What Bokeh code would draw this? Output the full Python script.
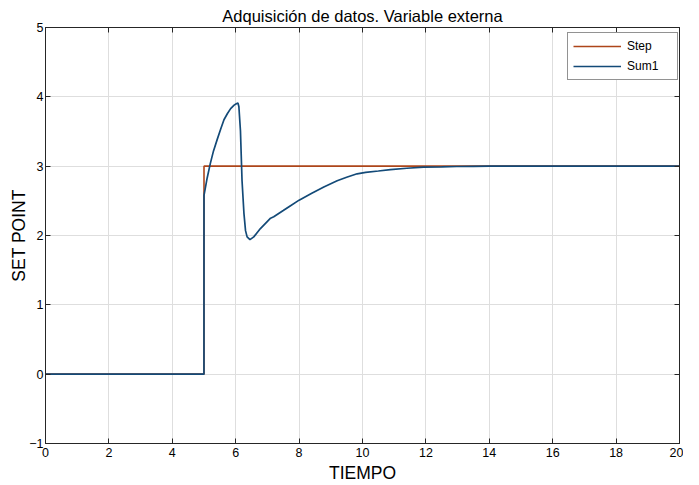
from bokeh.plotting import figure
from bokeh.models import LinearAxis, Range1d, FixedTicker, Legend, LegendItem
from bokeh.embed import file_html
from bokeh.resources import INLINE

t_step = [0, 5, 5, 20]
y_step = [0, 0, 3, 3]

t_sum = [0, 4.999, 5.0, 5.1, 5.2, 5.3, 5.42, 5.53, 5.63, 5.74, 5.84, 5.95, 6.02, 6.07, 6.1,
         6.15, 6.2, 6.26, 6.31, 6.36, 6.45, 6.57, 6.78, 7.1, 7.2, 7.5, 7.73, 8.0, 8.4, 8.78,
         9.2, 9.5, 9.83, 10.1, 10.5, 10.88, 11.4, 11.93, 12.5, 12.97, 13.5, 14, 15, 20]
y_sum = [0, 0, 2.58, 2.83, 3.04, 3.22, 3.39, 3.54, 3.67, 3.76, 3.83, 3.88, 3.9, 3.91, 3.86,
         3.51, 2.79, 2.32, 2.07, 1.98, 1.94, 1.98, 2.10, 2.25, 2.27, 2.36, 2.43, 2.51, 2.61, 2.70,
         2.79, 2.84, 2.89, 2.91, 2.93, 2.95, 2.97, 2.985, 2.99, 2.995, 2.998, 3.0, 3.0, 3.0]

x_ticks = [0, 2, 4, 6, 8, 10, 12, 14, 16, 18, 20]
y_ticks = [-1, 0, 1, 2, 3, 4, 5]

title_text = "Adquisición de datos. Variable externa"
x_label = "TIEMPO"
y_label = "SET POINT"

FONT = "Liberation Sans"
AX = "#262626"

p = figure(width=683, height=485, output_backend="svg", toolbar_location=None,
           x_range=Range1d(0, 20), y_range=Range1d(-1, 5),
           title=title_text,
           min_border_left=45, min_border_right=4, min_border_top=27, min_border_bottom=42)

p.title.text_font = FONT
p.title.text_font_size = "16.5px"
p.title.text_font_style = "normal"
p.title.align = "center"
p.title.text_color = "#000000"
p.title.standoff = 5

p.outline_line_color = AX
p.outline_line_width = 1

for ax, ticks in ((p.xaxis[0], x_ticks), (p.yaxis[0], y_ticks)):
    ax.ticker = FixedTicker(ticks=ticks)
    ax.major_tick_in = 5
    ax.major_tick_out = 0
    ax.minor_tick_line_color = None
    ax.axis_line_color = AX
    ax.major_tick_line_color = AX
    ax.major_label_text_font = FONT
    ax.major_label_text_font_size = "12.5px"
    ax.major_label_text_color = "#000000"
    ax.axis_label_text_font = FONT
    ax.axis_label_text_font_size = "17.5px"
    ax.axis_label_text_font_style = "normal"
    ax.axis_label_text_color = "#000000"

p.xaxis[0].major_label_standoff = 4
p.xaxis[0].axis_label_standoff = 3
p.yaxis[0].major_label_standoff = 2
p.yaxis[0].axis_label_standoff = -3

p.xaxis[0].axis_label = x_label
p.yaxis[0].axis_label = y_label

for loc, ticks in (("above", x_ticks), ("right", y_ticks)):
    a = LinearAxis(ticker=FixedTicker(ticks=ticks), major_tick_in=5, major_tick_out=0,
                   minor_tick_line_color=None, axis_line_color=AX, major_tick_line_color=AX,
                   major_label_text_font_size="0px", major_label_text_color=None,
                   major_label_standoff=0)
    p.add_layout(a, loc)

p.xgrid.ticker = FixedTicker(ticks=x_ticks)
p.ygrid.ticker = FixedTicker(ticks=y_ticks)
p.xgrid.grid_line_color = "#dedede"
p.ygrid.grid_line_color = "#dedede"

r_sum = p.line(t_sum, y_sum, line_color="#134a78", line_width=1.7)
r_step = p.line(t_step, y_step, line_color="#ad451a", line_width=1.6)
p.renderers.remove(r_sum)
p.renderers.append(r_sum)

legend = Legend(items=[LegendItem(label="Step", renderers=[r_step]),
                       LegendItem(label="Sum1", renderers=[r_sum])],
                location=(522, 363))
legend.label_text_font = FONT
legend.label_text_font_size = "12px"
legend.label_text_color = "#000000"
legend.glyph_width = 48
legend.glyph_height = 16
legend.label_height = 16
legend.label_width = 45
legend.spacing = 4
legend.padding = 5
legend.margin = 0
legend.label_standoff = 6
legend.border_line_color = AX
legend.border_line_width = 1
legend.background_fill_alpha = 1
p.add_layout(legend)

open("out.html", "w").write(file_html(p, INLINE))
